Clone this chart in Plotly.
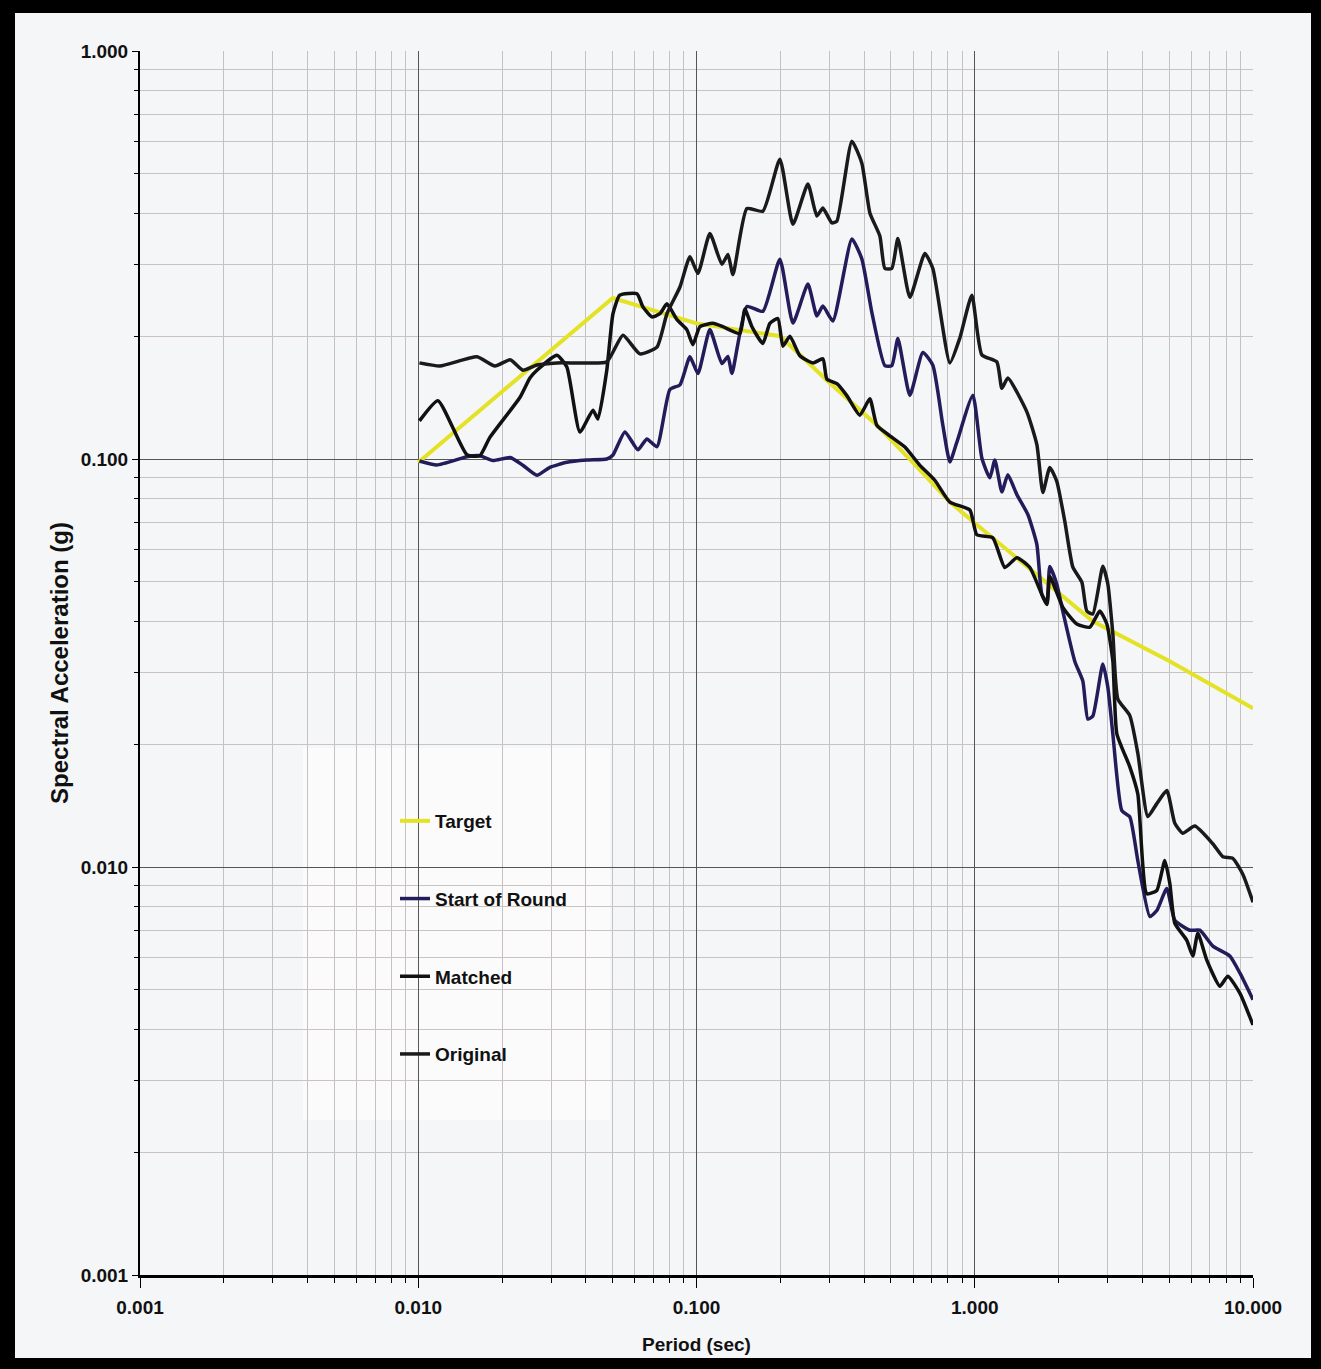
import plotly.graph_objects as go

# ---------------- data ----------------
period_target = [0.01, 0.05, 0.1, 0.2, 0.3, 0.445, 0.6, 0.814, 1.0, 1.5, 2.0, 2.657, 5.0, 10.0]
sa_target = [0.098, 0.248, 0.215, 0.200, 0.154, 0.121, 0.098, 0.0784, 0.0697, 0.0554, 0.0471, 0.040, 0.032, 0.0245]

period_start = [0.0101, 0.01167, 0.01496, 0.01666, 0.01855, 0.0214, 0.02377, 0.0267, 0.02972, 0.0342,
                0.0404, 0.0476, 0.0501, 0.0553, 0.0616, 0.0663, 0.0721, 0.0802, 0.0872, 0.0947,
                0.1012, 0.1117, 0.1234, 0.1297, 0.1341, 0.1517, 0.1732, 0.1994, 0.2221, 0.2514,
                0.2708, 0.2846, 0.3091, 0.3617, 0.3928, 0.4269, 0.4753, 0.5035, 0.5293, 0.5845,
                0.651, 0.707, 0.768, 0.8139, 0.8625, 0.9845, 1.0605, 1.133, 1.181, 1.2515,
                1.315, 1.417, 1.552, 1.672, 1.742, 1.816, 1.861, 1.972, 2.073, 2.289,
                2.446, 2.549, 2.657, 2.886, 3.008, 3.135, 3.378, 3.608, 3.855, 4.258,
                4.511, 4.9, 5.236, 5.929, 6.44, 7.172, 8.254, 8.968, 10.0]
sa_start = [0.0989, 0.0967, 0.1013, 0.1019, 0.0991, 0.1008, 0.0965, 0.0912, 0.0954, 0.0982,
            0.0994, 0.100, 0.1023, 0.1165, 0.1053, 0.112, 0.1072, 0.148, 0.152, 0.178,
            0.162, 0.2076, 0.1714, 0.1784, 0.1621, 0.2366, 0.2301, 0.3088, 0.2153, 0.2684,
            0.2241, 0.2371, 0.218, 0.346, 0.3094, 0.2284, 0.1694, 0.1694, 0.1973, 0.1432,
            0.1825, 0.1697, 0.121, 0.0983, 0.110, 0.1434, 0.1006, 0.0899, 0.0995, 0.0831,
            0.0915, 0.0818, 0.0731, 0.0617, 0.0466, 0.0445, 0.0545, 0.0493, 0.0423, 0.0319,
            0.02855, 0.02304, 0.02344, 0.03144, 0.0276, 0.0212, 0.01374, 0.01327, 0.01037, 0.00756,
            0.00782, 0.00886, 0.0074, 0.0070, 0.0070, 0.0064, 0.00605, 0.0055, 0.00473]

period_matched = [0.0101, 0.01177, 0.01496, 0.01666, 0.01809, 0.02319, 0.0252, 0.0267, 0.0315, 0.0342,
                  0.0381, 0.04244, 0.04423, 0.0476, 0.0501, 0.053, 0.0611, 0.0642, 0.0691, 0.0739,
                  0.0783, 0.0851, 0.0923, 0.0971, 0.1028, 0.1145, 0.1244, 0.1432, 0.1492, 0.1582,
                  0.1732, 0.1835, 0.1961, 0.2044, 0.2166, 0.2353, 0.262, 0.2846, 0.2942, 0.3196,
                  0.347, 0.3864, 0.4198, 0.4447, 0.4954, 0.561, 0.635, 0.7186, 0.8139, 0.9603,
                  1.0175, 1.1614, 1.2829, 1.417, 1.578, 1.816, 1.861, 2.073, 2.327, 2.592,
                  2.816, 2.984, 3.135, 3.241, 3.608, 3.855, 4.153, 4.511, 4.82, 5.023,
                  5.236, 5.783, 6.077, 6.335, 6.823, 7.6, 8.121, 8.968, 10.0]
sa_matched = [0.124, 0.139, 0.1024, 0.1019, 0.113, 0.1415, 0.158, 0.165, 0.1795, 0.168,
              0.1164, 0.1317, 0.1253, 0.165, 0.227, 0.252, 0.254, 0.236, 0.223, 0.227,
              0.240, 0.2195, 0.2075, 0.1906, 0.211, 0.215, 0.211, 0.203, 0.233, 0.211,
              0.192, 0.215, 0.221, 0.189, 0.200, 0.179, 0.172, 0.176, 0.157, 0.153,
              0.143, 0.128, 0.1405, 0.121, 0.114, 0.107, 0.0965, 0.0887, 0.0784, 0.075,
              0.0652, 0.0641, 0.0542, 0.0573, 0.0542, 0.044, 0.0515, 0.0433, 0.0394, 0.0387,
              0.0424, 0.0394, 0.032, 0.0212, 0.0176, 0.0151, 0.0086, 0.00876, 0.01037, 0.00912,
              0.00728, 0.00661, 0.00605, 0.00688, 0.00591, 0.0051, 0.0054, 0.00491, 0.0041]

period_original = [0.0101, 0.01197, 0.01626, 0.01887, 0.0214, 0.02377, 0.0267, 0.0315, 0.0381, 0.0476,
                   0.0544, 0.0626, 0.0721, 0.0783, 0.0872, 0.0947, 0.1012, 0.1117, 0.1234, 0.1297,
                   0.1352, 0.1517, 0.1732, 0.1994, 0.2221, 0.2514, 0.2708, 0.2846, 0.3066, 0.3196,
                   0.3617, 0.3928, 0.4198, 0.456, 0.4753, 0.5035, 0.5293, 0.5845, 0.6617, 0.707,
                   0.8139, 0.8841, 0.9763, 1.0605, 1.2006, 1.2515, 1.315, 1.539, 1.672, 1.757,
                   1.861, 1.972, 2.107, 2.252, 2.426, 2.528, 2.657, 2.886, 3.008, 3.135,
                   3.268, 3.608, 3.855, 4.188, 4.511, 4.9, 5.236, 5.594, 6.178, 7.172,
                   7.79, 8.462, 9.191, 10.0]
sa_original = [0.172, 0.169, 0.178, 0.169, 0.175, 0.165, 0.170, 0.172, 0.172, 0.173,
               0.201, 0.181, 0.188, 0.227, 0.264, 0.313, 0.285, 0.357, 0.300, 0.317,
               0.283, 0.411, 0.405, 0.543, 0.376, 0.472, 0.394, 0.412, 0.379, 0.383,
               0.601, 0.531, 0.401, 0.352, 0.293, 0.293, 0.347, 0.249, 0.319, 0.293,
               0.172, 0.198, 0.252, 0.180, 0.173, 0.149, 0.158, 0.1305, 0.1084, 0.0828,
               0.0953, 0.0881, 0.0703, 0.0543, 0.0499, 0.0424, 0.0417, 0.0546, 0.0494, 0.0373,
               0.0258, 0.0235, 0.0190, 0.0133, 0.0143, 0.0154, 0.0128, 0.0121, 0.0126, 0.0114,
               0.0106, 0.0105, 0.0096, 0.0082]

x_tickvals = [0.001, 0.01, 0.1, 1, 10]
x_ticktext = ["0.001", "0.010", "0.100", "1.000", "10.000"]
y_tickvals = [0.001, 0.01, 0.1, 1]
y_ticktext = ["0.001", "0.010", "0.100", "1.000"]

# ---------------- styling ----------------
W, H = 1321, 1369
PL, PR, PT, PB = 140, 1253, 51, 1275   # plot-area pixel box
FONT = "Liberation Sans, Arial, sans-serif"
BG = "#f5f6f8"
TXT = dict(family=FONT, size=19, color="#111", weight="bold")


def px2x(px):
    return (px - PL) / (PR - PL)


def py2y(py):
    return (PB - py) / (PB - PT)


minor_x = [m * 10.0 ** e for e in range(-3, 1) for m in range(2, 10)]
minor_y = [m * 10.0 ** e for e in range(-3, 0) for m in range(2, 10)]

fig = go.Figure()
fig.add_trace(go.Scatter(x=period_target, y=sa_target, mode="lines", name="Target",
                         legendgroup="a", line=dict(color="#e4e225", width=4)))
fig.add_trace(go.Scatter(x=period_start, y=sa_start, mode="lines", name="Start of Round",
                         legendgroup="b", line=dict(color="#221c5a", width=3.5, shape="spline", smoothing=0.5)))
fig.add_trace(go.Scatter(x=period_matched, y=sa_matched, mode="lines", name="Matched",
                         legendgroup="c", line=dict(color="#111111", width=3.5, shape="spline", smoothing=0.5)))
fig.add_trace(go.Scatter(x=period_original, y=sa_original, mode="lines", name="Original",
                         legendgroup="d", line=dict(color="#1a1a1a", width=3.5, shape="spline", smoothing=0.5)))

shapes = []
# white legend box hiding the grid
shapes.append(dict(type="rect", xref="paper", yref="paper", layer="between",
                   x0=px2x(303), x1=px2x(610), y0=py2y(1120), y1=py2y(748),
                   fillcolor="#fbfbfc", line=dict(width=0)))
# thick black frame around the picture
for (x0, x1, y0, y1) in [(0, 15, 0, H), (1311, W, 0, H), (0, W, 0, 13), (0, W, 1358, H)]:
    shapes.append(dict(type="rect", xref="paper", yref="paper", layer="above",
                       x0=px2x(x0), x1=px2x(x1), y0=py2y(y1), y1=py2y(y0),
                       fillcolor="black", line=dict(width=0)))

axis_common = dict(
    type="log", showgrid=True, gridcolor="#555555", gridwidth=1.3,
    showline=True, linecolor="black", ticks="outside", tickcolor="black",
    tickfont=TXT, zeroline=False,
)

fig.update_layout(
    width=W, height=H,
    margin=dict(l=PL, r=W - PR, t=PT, b=H - PB, autoexpand=False),
    paper_bgcolor=BG, plot_bgcolor=BG,
    shapes=shapes,
    showlegend=True,
    legend=dict(x=px2x(395), y=py2y(802), xanchor="left", yanchor="top",
                bgcolor="rgba(0,0,0,0)", borderwidth=0, tracegroupgap=50,
                font=TXT),
    xaxis=dict(axis_common, range=[-3, 1], tickmode="array", tickvals=x_tickvals, ticktext=x_ticktext,
               linewidth=2.5, ticklen=10, ticklabelstandoff=3,
               minor=dict(tickvals=minor_x, showgrid=True, gridcolor="#c6c0c4", gridwidth=1,
                          ticks="outside", ticklen=5, tickcolor="black"),
               title=dict(text="Period (sec)", standoff=22, font=TXT)),
    yaxis=dict(axis_common, range=[-3, 0], tickmode="array", tickvals=y_tickvals, ticktext=y_ticktext,
               linewidth=2, ticklen=6, ticklabelstandoff=0,
               minor=dict(tickvals=minor_y, showgrid=True, gridcolor="#cbc2c2", gridwidth=1,
                          ticks="outside", ticklen=4, tickcolor="black"),
               title=dict(text="Spectral Acceleration (g)", standoff=5,
                          font=dict(family=FONT, size=24, color="#111", weight="bold"))),
)

fig.write_html("out.html")
